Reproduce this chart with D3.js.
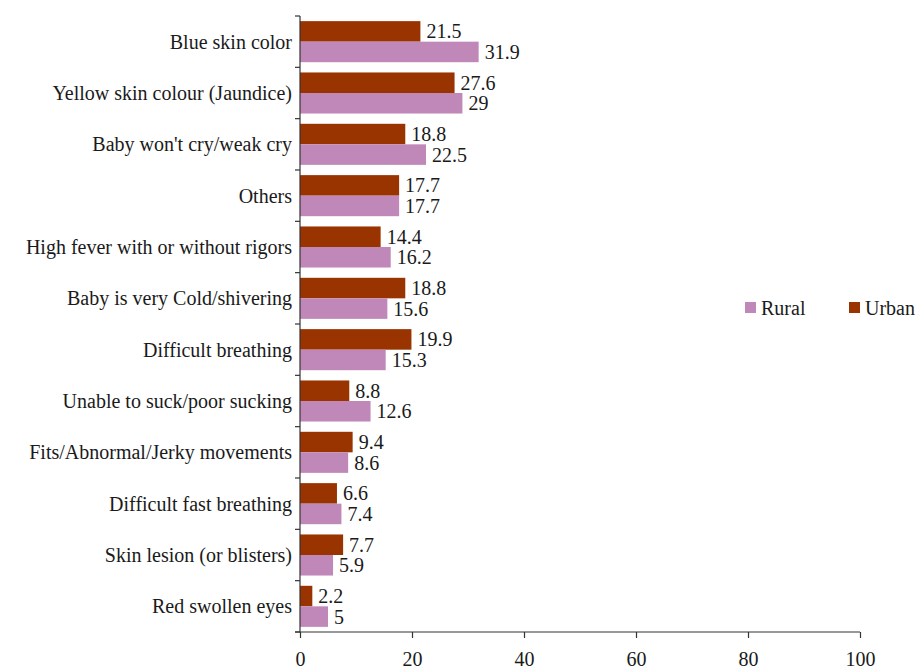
<!DOCTYPE html>
<html>
<head>
<meta charset="utf-8">
<script src="https://cdn.jsdelivr.net/npm/d3@7/dist/d3.min.js"></script>
<style>
  body { margin: 0; background: #fff; }
</style>
</head>
<body>
<svg id="chart" width="919" height="671"></svg>
<script>
// Danger signs reported, by residence (%)
const categories = [
  "Blue skin color",
  "Yellow skin colour (Jaundice)",
  "Baby won't cry/weak cry",
  "Others",
  "High fever with or without rigors",
  "Baby is very Cold/shivering",
  "Difficult breathing",
  "Unable to suck/poor sucking",
  "Fits/Abnormal/Jerky movements",
  "Difficult fast breathing",
  "Skin lesion (or blisters)",
  "Red swollen eyes"
];
const urban = [21.5, 27.6, 18.8, 17.7, 14.4, 18.8, 19.9, 8.8, 9.4, 6.6, 7.7, 2.2];
const rural = [31.9, 29, 22.5, 17.7, 16.2, 15.6, 15.3, 12.6, 8.6, 7.4, 5.9, 5];
const xTicks = [0, 20, 40, 60, 80, 100];
const seriesNames = ["Rural", "Urban"];
const colors = { Urban: "#993300", Rural: "#c088b8" };

const FONT = "Liberation Serif";
const FS = 20;
const INK = "#1a1a1a";

const svg = d3.select("#chart");
const plotLeft = 300, plotRight = 860, plotTop = 16, plotBottom = 632;

const x = d3.scaleLinear().domain([0, 100]).range([plotLeft, plotRight]);
const y = d3.scaleBand().domain(categories).range([plotTop, plotBottom]).paddingInner(0.2).paddingOuter(0.1);
const sub = d3.scaleBand().domain(["Urban", "Rural"]).range([0, y.bandwidth()]);

const rows = categories.map((c, i) => ({ c, Urban: urban[i], Rural: rural[i] }));

function label(sel) {
  return sel.attr("font-family", FONT).attr("font-size", FS).attr("fill", INK);
}

const g = svg.append("g");
rows.forEach(r => {
  ["Urban", "Rural"].forEach(s => {
    g.append("rect")
      .attr("x", x(0))
      .attr("y", y(r.c) + sub(s))
      .attr("width", x(r[s]) - x(0))
      .attr("height", sub.bandwidth())
      .attr("fill", colors[s]);
    g.append("text")
      .attr("x", x(r[s]) + 6)
      .attr("y", y(r.c) + sub(s) + sub.bandwidth() / 2)
      .attr("dy", "0.35em")
      .call(label)
      .text(r[s]);
  });
});

// Category labels
svg.append("g").selectAll("text").data(categories).join("text")
  .attr("x", plotLeft - 8)
  .attr("y", d => y(d) + y.bandwidth() / 2)
  .attr("dy", "0.35em")
  .attr("text-anchor", "end")
  .call(label)
  .text(d => d);

// Y axis line with ticks at band boundaries
const yAxis = svg.append("g").attr("stroke", "#333").attr("stroke-width", 1.2);
yAxis.append("line").attr("x1", plotLeft).attr("x2", plotLeft).attr("y1", plotTop).attr("y2", plotBottom);
d3.range(categories.length + 1).forEach(i => {
  const yy = plotTop + i * y.step();
  yAxis.append("line").attr("x1", plotLeft - 5).attr("x2", plotLeft).attr("y1", yy).attr("y2", yy);
});

// X axis
const xAxis = d3.axisBottom(x).tickValues(xTicks).tickSizeInner(6).tickSizeOuter(0).tickPadding(14);
const xg = svg.append("g").attr("transform", `translate(0,${plotBottom})`).call(xAxis);
xg.attr("font-family", FONT).attr("font-size", FS);
xg.select(".domain").attr("stroke", "#333").attr("stroke-width", 1.2).attr("d", `M${plotLeft - 5},0H${plotRight}`);
xg.selectAll(".tick line").attr("stroke", "#333").attr("stroke-width", 1.2);
xg.selectAll(".tick text").call(label);

// Legend
const legend = svg.append("g");
const legendX = [745, 849];
seriesNames.forEach((s, i) => {
  legend.append("rect").attr("x", legendX[i]).attr("y", 302).attr("width", 11).attr("height", 11).attr("fill", colors[s]);
  legend.append("text").attr("x", legendX[i] + 16).attr("y", 308).attr("dy", "0.35em").call(label).text(s);
});
</script>
</body>
</html>
